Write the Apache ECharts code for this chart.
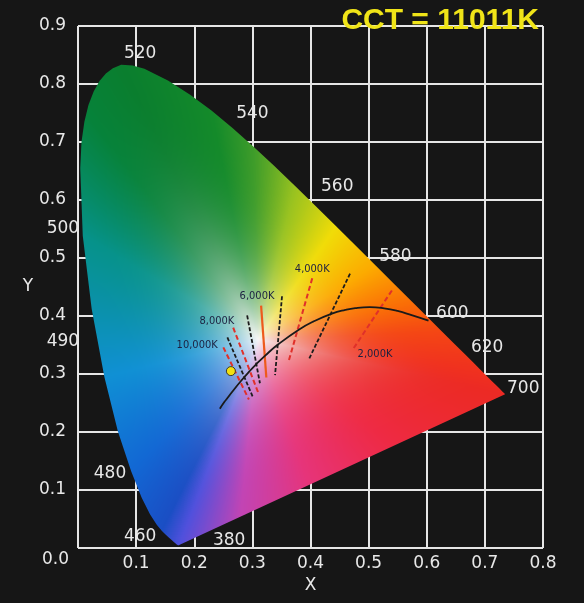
<!DOCTYPE html>
<html>
<head>
<meta charset="utf-8">
<script src="https://cdn.jsdelivr.net/npm/echarts@6/dist/echarts.min.js"></script>
<style>
  html, body { margin: 0; padding: 0; background: #161616; }
  #chart { width: 584px; height: 603px; }
</style>
</head>
<body>
<div id="chart"></div>
<script>
// CIE 1931 spectral locus, 380 .. 700 nm
const locusX = [0.1741, 0.1740, 0.1738, 0.1736, 0.1733, 0.1730, 0.1726, 0.1721, 0.1714, 0.1703,
  0.1689, 0.1669, 0.1644, 0.1611, 0.1566, 0.1510, 0.1440, 0.1355, 0.1241, 0.1096,
  0.0913, 0.0687, 0.0454, 0.0235, 0.0082, 0.0039, 0.0060, 0.0110, 0.0180, 0.0270, 0.0370,
  0.0480, 0.0600, 0.0743, 0.0940, 0.1142,
  0.1547, 0.1929, 0.2296, 0.2658, 0.3016, 0.3373, 0.3731, 0.4087, 0.4441, 0.4788,
  0.5125, 0.5448, 0.5752, 0.6029, 0.6270, 0.6482, 0.6658, 0.6801, 0.6915, 0.7006,
  0.7079, 0.7140, 0.7190, 0.7230, 0.7260, 0.7300, 0.7334, 0.7347];
const locusY = [0.0050, 0.0050, 0.0049, 0.0049, 0.0048, 0.0048, 0.0048, 0.0048, 0.0051, 0.0058,
  0.0069, 0.0086, 0.0109, 0.0138, 0.0177, 0.0227, 0.0297, 0.0399, 0.0578, 0.0868,
  0.1327, 0.2007, 0.2950, 0.4127, 0.5384, 0.6548, 0.7000, 0.7350, 0.7640, 0.7870, 0.8050,
  0.8180, 0.8270, 0.8330, 0.8320, 0.8262,
  0.8059, 0.7816, 0.7543, 0.7243, 0.6923, 0.6589, 0.6245, 0.5896, 0.5547, 0.5202,
  0.4866, 0.4544, 0.4242, 0.3965, 0.3725, 0.3514, 0.3340, 0.3197, 0.3083, 0.2993,
  0.2920, 0.2859, 0.2809, 0.2770, 0.2740, 0.2700, 0.2666, 0.2653];

// wavelength labels around the horseshoe
const waveNames = ['520', '540', '560', '580', '600', '620', '700', '500', '490', '480', '460', '380'];
const waveX = [0.107, 0.300, 0.446, 0.546, 0.644, 0.704, 0.766, -0.026, -0.026, 0.055, 0.107, 0.260];
const waveY = [0.852, 0.749, 0.623, 0.503, 0.405, 0.346, 0.275, 0.551, 0.356, 0.129, 0.019, 0.012];

// planckian locus
const planckX = [0.244, 0.252, 0.2565, 0.2637, 0.2807, 0.2952, 0.3064, 0.3221, 0.3451, 0.3805,
  0.4053, 0.4369, 0.4599, 0.4770, 0.5018, 0.5267, 0.5497, 0.5740, 0.603];
const planckY = [0.240, 0.252, 0.2577, 0.2673, 0.2883, 0.3048, 0.3166, 0.3318, 0.3516, 0.3768,
  0.3907, 0.4041, 0.4106, 0.4137, 0.4153, 0.4133, 0.4088, 0.4015, 0.392];

// isotemperature lines
const isoRedLines = [
  [[0.250, 0.346], [0.294, 0.256]],
  [[0.267, 0.380], [0.310, 0.268]],
  [[0.403, 0.465], [0.363, 0.324]],
  [[0.540, 0.444], [0.472, 0.341]]
];
const isoBlackLines = [
  [[0.257, 0.363], [0.301, 0.260]],
  [[0.291, 0.401], [0.313, 0.284]],
  [[0.351, 0.434], [0.339, 0.298]],
  [[0.468, 0.473], [0.398, 0.327]]
];
const isoOrangeLines = [
  [[0.315, 0.418], [0.324, 0.294]]
];
const isoNames = ['10,000K', '8,000K', '6,000K', '4,000K', '2,000K'];
const isoLabelX = [0.205, 0.239, 0.308, 0.403, 0.511];
const isoLabelY = [0.350, 0.391, 0.434, 0.480, 0.334];

// measured point
const sampleX = [0.263];
const sampleY = [0.305];

const xTicks = ['0.1', '0.2', '0.3', '0.4', '0.5', '0.6', '0.7', '0.8'];
const yTicks = ['0.1', '0.2', '0.3', '0.4', '0.5', '0.6', '0.7', '0.8', '0.9'];

// colours of the boundary used for shading the horseshoe
const whiteX = 0.31, whiteY = 0.36;
const edgeX = [0.1741, 0.1440, 0.0913, 0.0454, 0.0082, 0.0139, 0.0743, 0.2296, 0.3016, 0.3731,
  0.4441, 0.5125, 0.5752, 0.6270, 0.6915, 0.7347, 0.55, 0.40, 0.28];
const edgeY = [0.0050, 0.0297, 0.1327, 0.2950, 0.5384, 0.7502, 0.8338, 0.7543, 0.6923, 0.6245,
  0.5547, 0.4866, 0.4242, 0.3725, 0.3083, 0.2653, 0.17, 0.10, 0.06];
const edgeColors = ['#5050dc', '#1a4ec4', '#1268d4', '#1090d4', '#06928a', '#06823a', '#0a7e2e',
  '#148a2a', '#3e9c2a', '#98c220', '#f0dc08', '#fcaa00', '#fa6e06', '#f44614', '#f0321e',
  '#ec2a24', '#ee2a44', '#e6347a', '#c244b4'];

function hexRgb(h) {
  return [parseInt(h.slice(1, 3), 16), parseInt(h.slice(3, 5), 16), parseInt(h.slice(5, 7), 16)];
}

let fillCanvas = null;
function buildFill(api) {
  const p0 = api.coord([0, 0]), p1 = api.coord([0.8, 0.9]);
  const sx = (p1[0] - p0[0]) / 0.8, sy = (p1[1] - p0[1]) / 0.9;
  const W = api.getWidth(), H = api.getHeight();
  const N = 1440, n = locusX.length;
  const radius = new Float32Array(N);
  const edge = new Float32Array(N * 3);

  let anchors = edgeX.map((x, i) => ({ a: Math.atan2(edgeY[i] - whiteY, x - whiteX), c: hexRgb(edgeColors[i]) }))
    .sort((p, q) => p.a - q.a);
  anchors = [{ a: anchors[anchors.length - 1].a - 2 * Math.PI, c: anchors[anchors.length - 1].c }]
    .concat(anchors, [{ a: anchors[0].a + 2 * Math.PI, c: anchors[0].c }]);

  for (let i = 0; i < N; i++) {
    const a = -Math.PI + 2 * Math.PI * i / N;
    const dx = Math.cos(a), dy = Math.sin(a);
    let best = 0;
    for (let j = 0; j < n; j++) {
      const ax = locusX[j] - whiteX, ay = locusY[j] - whiteY;
      const bx = locusX[(j + 1) % n] - whiteX, by = locusY[(j + 1) % n] - whiteY;
      const ex = bx - ax, ey = by - ay;
      const den = dx * ey - dy * ex;
      if (Math.abs(den) < 1e-12) continue;
      const t = (ax * ey - ay * ex) / den;
      const s = (ax * dy - ay * dx) / den;
      if (t > 0 && s >= 0 && s <= 1) best = Math.max(best, t);
    }
    radius[i] = best;
    for (let k = 0; k < anchors.length - 1; k++) {
      const p = anchors[k], q = anchors[k + 1];
      if (a >= p.a && a <= q.a) {
        const f = (a - p.a) / (q.a - p.a);
        for (let c = 0; c < 3; c++) edge[i * 3 + c] = p.c[c] + (q.c[c] - p.c[c]) * f;
        break;
      }
    }
  }

  const cv = document.createElement('canvas');
  cv.width = W; cv.height = H;
  const ctx = cv.getContext('2d');
  const img = ctx.createImageData(W, H);
  const x0 = Math.floor(p0[0]), x1 = Math.ceil(p1[0]);
  const y0 = Math.floor(p1[1]), y1 = Math.ceil(p0[1]);
  for (let py = Math.max(0, y0); py < Math.min(H, y1); py++) {
    for (let px = Math.max(0, x0); px < Math.min(W, x1); px++) {
      const x = (px + 0.5 - p0[0]) / sx, y = (py + 0.5 - p0[1]) / sy;
      const dx = x - whiteX, dy = y - whiteY;
      const a = Math.atan2(dy, dx);
      const idx = Math.round((a + Math.PI) / (2 * Math.PI) * N) % N;
      let r = Math.sqrt(dx * dx + dy * dy) / (radius[idx] || 1);
      if (r > 1) r = 1;
      const f = 1 - Math.pow(1 - r, 3.2);
      const o = (py * W + px) * 4;
      img.data[o] = 246 + (edge[idx * 3] - 246) * f;
      img.data[o + 1] = 246 + (edge[idx * 3 + 1] - 246) * f;
      img.data[o + 2] = 246 + (edge[idx * 3 + 2] - 246) * f;
      img.data[o + 3] = 255;
    }
  }
  ctx.putImageData(img, 0, 0);
  return cv;
}

const chart = echarts.init(document.getElementById('chart'));
const labelFont = { color: '#e8e8e8', fontSize: 17, fontFamily: 'DejaVu Sans' };

chart.setOption({
  backgroundColor: '#161616',
  animation: false,
  title: {
    text: 'CCT = 11011K',
    right: 40,
    top: 1,
    textStyle: { color: '#f0e418', fontSize: 30, fontWeight: 'bold', fontFamily: 'Liberation Sans' }
  },
  grid: { left: 78, right: 41, top: 26, bottom: 55 },
  xAxis: {
    type: 'value', min: 0, max: 0.8, interval: 0.1,
    name: 'X', nameLocation: 'middle', nameGap: 24,
    nameTextStyle: labelFont,
    axisLine: { show: false }, axisTick: { show: false },
    axisLabel: Object.assign({ margin: 7, formatter: v => v < 0.05 ? '' : xTicks[Math.round(v * 10) - 1] }, labelFont),
    splitLine: { show: true, lineStyle: { color: '#e6e6e6', width: 2 } }
  },
  yAxis: {
    type: 'value', min: 0, max: 0.9, interval: 0.1,
    name: 'Y', nameLocation: 'middle', nameGap: 32, nameRotate: 0,
    nameTextStyle: labelFont,
    axisLine: { show: false }, axisTick: { show: false },
    axisLabel: Object.assign({ margin: 12, formatter: v => v < 0.05 ? '' : yTicks[Math.round(v * 10) - 1] }, labelFont),
    splitLine: { show: true, lineStyle: { color: '#e6e6e6', width: 2 } }
  },
  graphic: [{
    type: 'text', left: 42, top: 551,
    style: { text: '0.0', fill: '#e8e8e8', font: '17px "DejaVu Sans"' }
  }],
  series: [
    {
      type: 'custom',
      silent: true,
      z: 1,
      data: [0],
      renderItem: (params, api) => {
        if (!fillCanvas) fillCanvas = buildFill(api);
        const pts = locusX.map((x, i) => api.coord([x, locusY[i]]));
        return {
          type: 'polygon',
          shape: { points: pts },
          style: { fill: { image: fillCanvas, repeat: 'no-repeat' }, stroke: null }
        };
      }
    },
    {
      type: 'line',
      z: 3,
      silent: true,
      smooth: true,
      symbol: 'none',
      data: planckX.map((x, i) => [x, planckY[i]]),
      lineStyle: { color: '#1a1a1a', width: 1.8 }
    },
    {
      type: 'lines',
      coordinateSystem: 'cartesian2d',
      z: 3,
      silent: true,
      data: isoRedLines.map(c => ({ coords: c })),
      lineStyle: { color: '#e0302a', width: 2, type: [5, 3], opacity: 1 }
    },
    {
      type: 'lines',
      coordinateSystem: 'cartesian2d',
      z: 3,
      silent: true,
      data: isoBlackLines.map(c => ({ coords: c })),
      lineStyle: { color: '#1c1c1c', width: 1.8, type: [4, 2], opacity: 1 }
    },
    {
      type: 'lines',
      coordinateSystem: 'cartesian2d',
      z: 3,
      silent: true,
      data: isoOrangeLines.map(c => ({ coords: c })),
      lineStyle: { color: '#ee5a1c', width: 2.2, opacity: 1 }
    },
    {
      type: 'scatter',
      z: 4,
      silent: true,
      clip: false,
      symbolSize: 0,
      itemStyle: { opacity: 1 },
      data: isoNames.map((name, i) => ({ name: name, value: [isoLabelX[i], isoLabelY[i]] })),
      label: {
        show: true, position: 'inside', formatter: '{b}',
        color: '#1c2040', fontSize: 11, fontFamily: 'DejaVu Sans Condensed'
      }
    },
    {
      type: 'scatter',
      z: 5,
      silent: true,
      data: sampleX.map((x, i) => [x, sampleY[i]]),
      symbol: 'circle',
      symbolSize: 9,
      itemStyle: { color: '#f2e010', borderColor: '#3a3a2a', borderWidth: 1, opacity: 1 }
    },
    {
      type: 'scatter',
      z: 4,
      silent: true,
      clip: false,
      symbolSize: 0,
      itemStyle: { opacity: 1 },
      data: waveNames.map((name, i) => ({ name: name, value: [waveX[i], waveY[i]] })),
      label: Object.assign({ show: true, position: 'inside', formatter: '{b}' }, labelFont)
    }
  ]
});
</script>
</body>
</html>
